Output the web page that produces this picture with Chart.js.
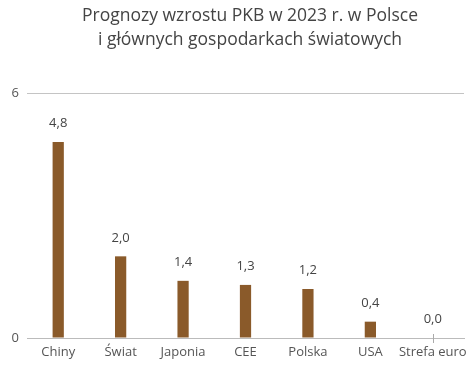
<!DOCTYPE html>
<html>
<head>
<meta charset="utf-8">
<script src="https://cdn.jsdelivr.net/npm/chart.js@4"></script>
<style>
  html, body { margin: 0; padding: 0; background: #fff; }
  #wrap { width: 474px; height: 367px; }
</style>
</head>
<body>
<div id="wrap"><canvas id="c"></canvas></div>
<script>
const categories = ["Chiny", "Świat", "Japonia", "CEE", "Polska", "USA", "Strefa euro"];
const growth = [4.8, 2.0, 1.4, 1.3, 1.2, 0.4, 0.0];
const titleLines = ["Prognozy wzrostu PKB w 2023 r. w Polsce", "i głównych gospodarkach światowych"];

const FONT = "'Open Sans', sans-serif";
const fmt = v => v.toFixed(1).replace(".", ",");

// two-line title, centred a bit right of the canvas middle like the original
const titlePlugin = {
  id: "titleText",
  afterDraw(chart) {
    const ctx = chart.ctx;
    ctx.save();
    ctx.font = "17.5px " + FONT;
    ctx.fillStyle = "#444";
    ctx.textAlign = "center";
    ctx.textBaseline = "alphabetic";
    titleLines.forEach((t, i) => ctx.fillText(t, 250, 21 + i * 24));
    ctx.restore();
  }
};

// value labels above bars + small marker for zero values
const valueLabels = {
  id: "valueLabels",
  afterDatasetsDraw(chart) {
    const ctx = chart.ctx;
    const meta = chart.getDatasetMeta(0);
    const y0 = chart.scales.y.getPixelForValue(0);
    ctx.save();
    ctx.font = "13px " + FONT;
    ctx.fillStyle = "#444";
    ctx.textAlign = "center";
    ctx.textBaseline = "bottom";
    meta.data.forEach((bar, i) => {
      ctx.fillText(fmt(growth[i]), bar.x, bar.y - 12);
      if (growth[i] === 0) {
        ctx.strokeStyle = "#aaa";
        ctx.lineWidth = 1;
        ctx.beginPath();
        ctx.moveTo(Math.round(bar.x) + 0.5, y0 - 4);
        ctx.lineTo(Math.round(bar.x) + 0.5, y0 + 5);
        ctx.stroke();
      }
    });
    ctx.restore();
  }
};

new Chart(document.getElementById("c"), {
  type: "bar",
  data: {
    labels: categories,
    datasets: [{
      data: growth,
      backgroundColor: "#8a5a2a",
      categoryPercentage: 1,
      barPercentage: 0.18
    }]
  },
  options: {
    responsive: true,
    maintainAspectRatio: false,
    animation: false,
    layout: { padding: { left: 0, right: 10, top: 93, bottom: 7 } },
    plugins: {
      legend: { display: false },
      tooltip: { enabled: false },
      title: { display: false }
    },
    scales: {
      x: {
        afterFit(scale) { scale.height = 22; },
        grid: { display: false, drawTicks: false },
        border: { display: true, color: "#bbb" },
        ticks: { color: "#555", padding: 6, maxRotation: 0, autoSkip: false, font: { family: FONT, size: 13 } }
      },
      y: {
        min: 0,
        max: 6,
        afterFit(scale) { scale.width = 27; },
        grid: { color: "#c4c4c4", drawTicks: false },
        border: { display: false },
        ticks: { stepSize: 6, color: "#555", padding: 8, font: { family: FONT, size: 13 } }
      }
    }
  },
  plugins: [valueLabels, titlePlugin]
});
</script>
</body>
</html>
